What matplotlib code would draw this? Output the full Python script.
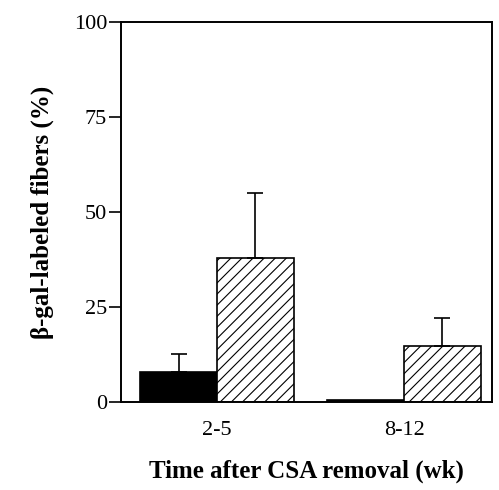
import numpy as np
import matplotlib.pyplot as plt

plt.rcParams['font.family'] = ['Liberation Serif', 'DejaVu Serif']
plt.rcParams['hatch.linewidth'] = 0.8

groups = ['2-5', '8-12']
solid_vals = [8, 0.5]
solid_err = [4.6, 0]
hatched_vals = [38, 14.7]
hatched_err = [17, 7.4]

x = np.arange(len(groups))
w = 0.41

fig = plt.figure(figsize=(4.99, 4.90), dpi=100)
ax = fig.add_axes([0.2425, 0.1796, 0.7435, 0.7754])

ax.bar(x - w/2, solid_vals, w, color='black', edgecolor='black', linewidth=1.2)
ax.bar(x + w/2, hatched_vals, w, color='white', edgecolor='black', hatch='///', linewidth=1.2)

# upper error bars only
ax.errorbar(x[:1] - w/2, solid_vals[:1], yerr=[[0], solid_err[:1]], fmt='none',
            ecolor='black', elinewidth=1.2, capsize=6, capthick=1.2)
ax.errorbar(x + w/2, hatched_vals, yerr=[[0, 0], hatched_err], fmt='none',
            ecolor='black', elinewidth=1.2, capsize=6, capthick=1.2)

ax.set_xlim(-0.513, 1.47)
ax.set_ylim(0, 100)
ax.set_yticks([0, 25, 50, 75, 100])
ax.set_xticks(x)
ax.set_xticklabels(groups)
ax.tick_params(axis='x', length=0, pad=14, labelsize=16)
ax.tick_params(axis='y', direction='out', length=9, width=1.2, labelsize=16, pad=1)
for s in ax.spines.values():
    s.set_linewidth(1.4)

ax.set_ylabel('β-gal-labeled fibers (%)', fontsize=18, fontweight='bold', labelpad=14)
ax.set_xlabel('Time after CSA removal (wk)', fontsize=18, fontweight='bold', labelpad=14)

fig.savefig('out.png', dpi=100)
